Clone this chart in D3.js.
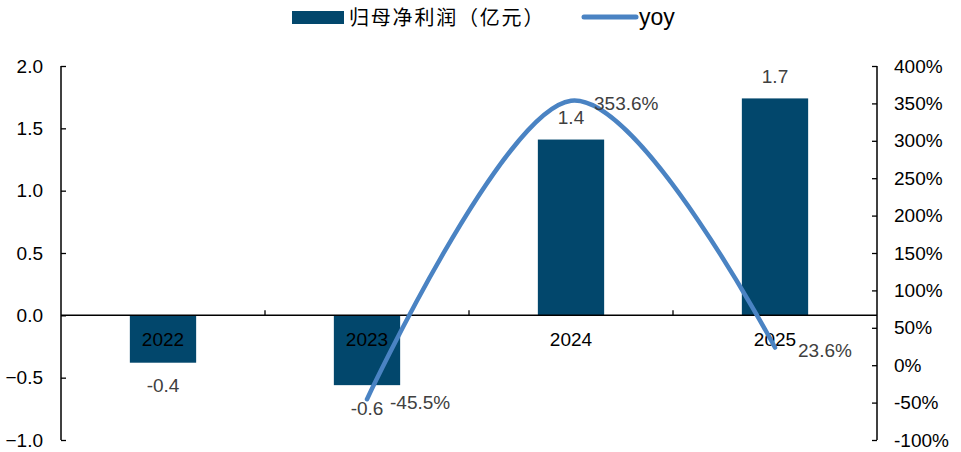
<!DOCTYPE html>
<html>
<head>
<meta charset="utf-8">
<script src="https://cdn.jsdelivr.net/npm/d3@7"></script>
<style>
  body { margin: 0; background: #fff; }
  svg text { font-family: "Liberation Sans", Arial, sans-serif; }
</style>
</head>
<body>
<div id="chart"></div>
<script>
const years = ["2022", "2023", "2024", "2025"];
const profit = [-0.38, -0.56, 1.41, 1.74];
const profitLabels = ["-0.4", "-0.6", "1.4", "1.7"];
const yoyYears = ["2023", "2024", "2025"];
const yoy = [-45.5, 353.6, 23.6];
const leftTicks = [-1.0, -0.5, 0, 0.5, 1.0, 1.5, 2.0];
const rightTicks = [-100, -50, 0, 50, 100, 150, 200, 250, 300, 350, 400];

const W = 961, H = 452;
const margin = { top: 66, right: 84, bottom: 12, left: 61 };
const width = W - margin.left - margin.right;
const height = H - margin.top - margin.bottom;

const barColor = "#02476c";
const lineColor = "#4a83c3";

const svg = d3.select("#chart").append("svg")
    .attr("width", W).attr("height", H);
const g = svg.append("g")
    .attr("transform", `translate(${margin.left},${margin.top})`);

const x = d3.scaleBand().domain(years).range([0, width]).paddingInner(0.675).paddingOuter(0.3375);
const xc = d => x(d) + x.bandwidth() / 2;
const yL = d3.scaleLinear().domain([-1, 2]).range([height, 0]);
const yR = d3.scaleLinear().domain([-100, 400]).range([height, 0]);

// axes (inward ticks)
const leftAxis = g.append("g")
    .call(d3.axisRight(yL).tickValues(leftTicks).tickSize(5).tickFormat(d3.format(".1f")));
leftAxis.select(".domain").attr("d", `M0,0V${height}`).attr("stroke", "#000").attr("stroke-width", 1.5);
leftAxis.selectAll(".tick line").attr("stroke", "#000").attr("stroke-width", 1.3);
leftAxis.selectAll(".tick text")
    .attr("x", -18).attr("text-anchor", "end")
    .attr("font-size", 19).attr("fill", "#000");

const rightAxis = g.append("g")
    .attr("transform", `translate(${width},0)`)
    .call(d3.axisLeft(yR).tickValues(rightTicks).tickSize(5).tickFormat(d => d + "%"));
rightAxis.select(".domain").attr("d", `M0,0V${height}`).attr("stroke", "#000").attr("stroke-width", 1.5);
rightAxis.selectAll(".tick line").attr("stroke", "#000").attr("stroke-width", 1.3);
rightAxis.selectAll(".tick text")
    .attr("x", 17).attr("text-anchor", "start")
    .attr("font-size", 19).attr("fill", "#000");

// bars
g.selectAll(".bar")
    .data(years)
    .enter().append("rect")
    .attr("class", "bar")
    .attr("x", d => x(d))
    .attr("width", x.bandwidth())
    .attr("y", (d, i) => yL(Math.max(0, profit[i])))
    .attr("height", (d, i) => Math.abs(yL(profit[i]) - yL(0)))
    .attr("fill", barColor);

// category axis at zero
const xAxis = g.append("g")
    .attr("transform", `translate(0,${yL(0)})`);
xAxis.append("line")
    .attr("x1", 0).attr("x2", width)
    .attr("stroke", "#000").attr("stroke-width", 1.5);
const step = x.step();
xAxis.selectAll(".ctick")
    .data(d3.range(1, years.length))
    .enter().append("line")
    .attr("x1", d => d * step).attr("x2", d => d * step)
    .attr("y1", 0).attr("y2", -5)
    .attr("stroke", "#000").attr("stroke-width", 1.3);
xAxis.selectAll(".clabel")
    .data(years)
    .enter().append("text")
    .attr("x", d => xc(d))
    .attr("y", 24)
    .attr("dy", "0.35em")
    .attr("text-anchor", "middle")
    .attr("font-size", 19)
    .attr("fill", "#000")
    .text(d => d);

// bar labels
g.selectAll(".blabel")
    .data(years)
    .enter().append("text")
    .attr("x", d => xc(d))
    .attr("y", (d, i) => profit[i] < 0 ? yL(profit[i]) + 23 : yL(profit[i]) - 22)
    .attr("dy", "0.35em")
    .attr("text-anchor", "middle")
    .attr("font-size", 19)
    .attr("fill", "#404040")
    .text((d, i) => profitLabels[i]);

// yoy line (smoothed like the spreadsheet original)
const line = d3.line()
    .x(d => xc(d[0]))
    .y(d => yR(d[1]))
    .curve(d3.curveCardinal.tension(0));
const pts = yoyYears.map((d, i) => [d, yoy[i]]);
g.append("path")
    .datum(pts)
    .attr("d", line)
    .attr("fill", "none")
    .attr("stroke", lineColor)
    .attr("stroke-width", 4.5)
    .attr("stroke-linecap", "round");

g.selectAll(".ylabel")
    .data(pts)
    .enter().append("text")
    .attr("x", d => xc(d[0]) + 23)
    .attr("y", d => yR(d[1]) + 3)
    .attr("dy", "0.35em")
    .attr("font-size", 19)
    .attr("fill", "#404040")
    .text(d => d[1].toFixed(1) + "%");

// legend
const legend = svg.append("g");
legend.append("rect")
    .attr("x", 292).attr("y", 11).attr("width", 52).attr("height", 13)
    .attr("fill", barColor);
legend.append("text")
    .attr("x", 349).attr("y", 18).attr("dy", "0.35em")
    .attr("font-size", 20)
    .attr("letter-spacing", 1.8)
    .style("font-family", "'Noto Sans CJK SC', sans-serif")
    .attr("fill", "#000")
    .text("归母净利润（亿元）");
legend.append("line")
    .attr("x1", 584).attr("x2", 636).attr("y1", 17).attr("y2", 17)
    .attr("stroke", lineColor).attr("stroke-width", 5).attr("stroke-linecap", "round");
legend.append("text")
    .attr("x", 639).attr("y", 17).attr("dy", "0.35em")
    .attr("font-size", 23)
    .attr("fill", "#000")
    .text("yoy");
</script>
</body>
</html>
